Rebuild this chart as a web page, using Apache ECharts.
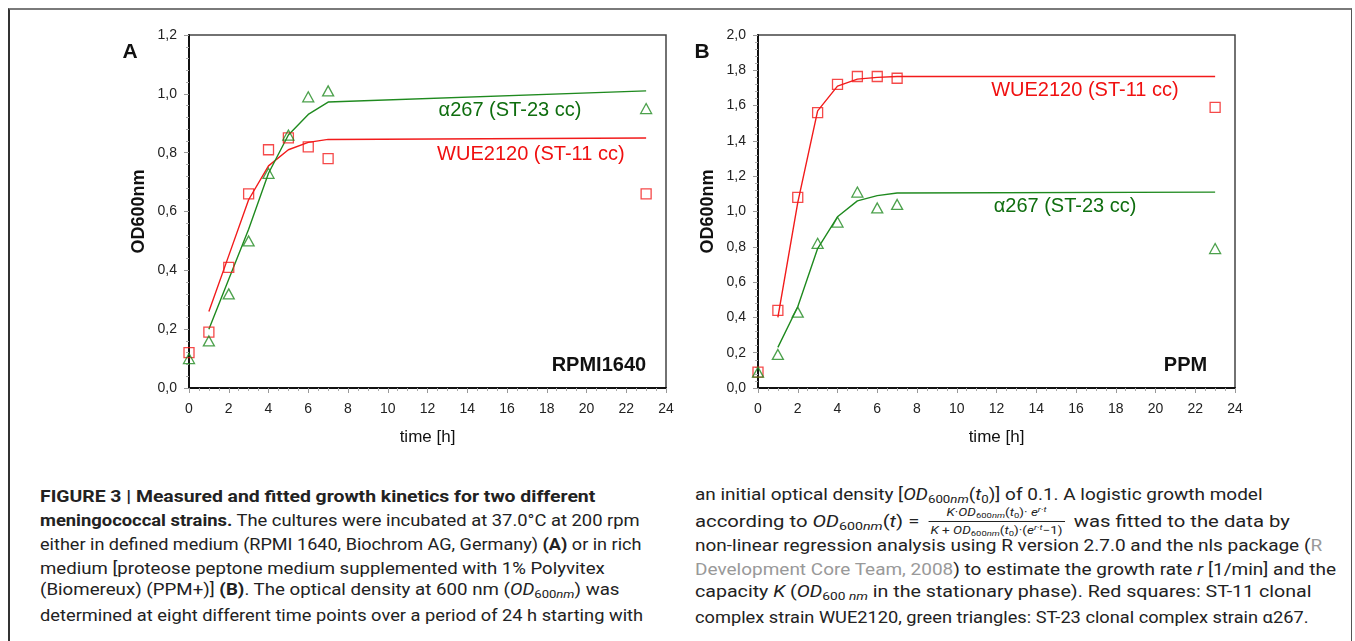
<!DOCTYPE html>
<html>
<head>
<meta charset="utf-8">
<script src="https://cdn.jsdelivr.net/npm/echarts@6/dist/echarts.min.js"></script>
<style>
  html, body { margin: 0; padding: 0; background: #fff; overflow: hidden; }
  body { width: 1355px; height: 641px; position: relative; }
  #frame { position: absolute; left: 8px; top: 8px; width: 1341px; height: 700px;
           border-top: 2px solid #7a7a7a; border-left: 2px solid #333; border-right: 1px solid #555; }
  #chart { position: absolute; left: 0; top: 0; width: 1355px; height: 470px; }
  .cap { position: absolute; white-space: nowrap; font-family: 'Liberation Sans Narrow', 'Roboto', 'Liberation Sans', sans-serif;
         font-size: 16.5px; color: #222; transform-origin: 0 50%; line-height: 20px; }
  .cap b { font-weight: bold; }
  .gray { color: #999; }
  .frac { display: inline-block; vertical-align: middle; text-align: center; font-size: 11px; line-height: 12px; margin: 0 3px; }
  .frac .num { display: block; border-bottom: 1px solid #222; padding: 0 2px; }
  .frac .den { display: block; padding: 0 2px; }
  sub { font-size: 0.7em; vertical-align: -0.25em; }
  sup { font-size: 0.7em; vertical-align: 0.5em; }
</style>
</head>
<body>
<div id="frame"></div>
<div id="chart"></div>

<div class="cap" data-x="40" data-y="497" data-w="555"><b>FIGURE 3 | Measured and fitted growth kinetics for two different</b></div>
<div class="cap" data-x="40" data-y="521" data-w="600"><b>meningococcal strains.</b> The cultures were incubated at 37.0°C at 200 rpm</div>
<div class="cap" data-x="40" data-y="545" data-w="601">either in defined medium (RPMI 1640, Biochrom AG, Germany) <b>(A)</b> or in rich</div>
<div class="cap" data-x="40" data-y="569" data-w="565">medium [proteose peptone medium supplemented with 1% Polyvitex</div>
<div class="cap" data-x="40" data-y="592" data-w="580">(Biomereux) (PPM+)] <b>(B)</b>. The optical density at 600 nm (<i>OD</i><sub>600<i>nm</i></sub>) was</div>
<div class="cap" data-x="40" data-y="616" data-w="603">determined at eight different time points over a period of 24 h starting with</div>

<div class="cap" data-x="695" data-y="497" data-w="567">an initial optical density [<i>OD</i><sub>600<i>nm</i></sub>(<i>t</i><sub>0</sub>)] of 0.1. A logistic growth model</div>
<div class="cap" data-x="695" data-y="522" data-w="595">according to <i>OD</i><sub>600<i>nm</i></sub>(<i>t</i>) = <span class="frac"><span class="num"><i>K</i>·<i>OD</i><sub>600<i>nm</i></sub>(<i>t</i><sub>0</sub>)· <i>e</i><sup><i>r</i>·<i>t</i></sup></span><span class="den"><i>K</i> + <i>OD</i><sub>600<i>nm</i></sub>(<i>t</i><sub>0</sub>)·(<i>e</i><sup><i>r</i>·<i>t</i></sup>−1)</span></span> was fitted to the data by</div>
<div class="cap" data-x="695" data-y="546" data-w="627">non-linear regression analysis using R version 2.7.0 and the nls package (<span class="gray">R</span></div>
<div class="cap" data-x="695" data-y="570" data-w="641"><span class="gray">Development Core Team, 2008</span>) to estimate the growth rate <i>r</i> [1/min] and the</div>
<div class="cap" data-x="695" data-y="594" data-w="617">capacity <i>K</i> (<i>OD</i><sub>600 <i>nm</i></sub> in the stationary phase). Red squares: ST-11 clonal</div>
<div class="cap" data-x="695" data-y="618" data-w="613">complex strain WUE2120, green triangles: ST-23 clonal complex strain α267.</div>

<script>
// ---------- data ----------
const timesMeasured = [0, 1, 2, 3, 4, 5, 6, 7, 23];
const timesFit = [1, 2, 3, 4, 5, 6, 7, 23];

// Panel A (RPMI1640)
const aRedMeasured   = [0.12, 0.19, 0.41, 0.66, 0.81, 0.85, 0.82, 0.78, 0.66];
const aGreenMeasured = [0.10, 0.16, 0.32, 0.50, 0.73, 0.86, 0.99, 1.01, 0.95];
const aRedFit   = [0.26, 0.45, 0.64, 0.755, 0.81, 0.835, 0.845, 0.85];
const aGreenFit = [0.20, 0.37, 0.54, 0.73, 0.86, 0.93, 0.972, 1.01];

// Panel B (PPM)
const bRedMeasured   = [0.09, 0.44, 1.08, 1.56, 1.72, 1.765, 1.765, 1.755, 1.59];
const bGreenMeasured = [0.09, 0.19, 0.43, 0.82, 0.94, 1.11, 1.02, 1.04, 0.79];
const bRedFit   = [0.40, 1.05, 1.57, 1.71, 1.75, 1.76, 1.765, 1.765];
const bGreenFit = [0.23, 0.46, 0.79, 0.97, 1.06, 1.09, 1.105, 1.11];

const xTicks = [0, 2, 4, 6, 8, 10, 12, 14, 16, 18, 20, 22, 24];
const yMaxA = 1.2, yMaxB = 2.0, yStep = 0.2;
const panelLetters = ['A', 'B'];
const mediumNames = ['RPMI1640', 'PPM'];
const strainRed = 'WUE2120 (ST-11 cc)';
const strainGreen = 'α267 (ST-23 cc)';
const xName = 'time [h]';
const yName = 'OD600nm';

// annotation anchors in data coordinates
const annotations = [
  { grid: 0, t: 16.15, v: 0.943, text: strainGreen, color: '#0f6e0f', align: 'center', bold: false },
  { grid: 0, t: 17.2,  v: 0.793, text: strainRed,   color: '#f01010', align: 'center', bold: false },
  { grid: 0, t: 23.0,  v: 0.075, text: mediumNames[0], color: '#111', align: 'right', bold: true },
  { grid: 1, t: 16.45, v: 1.688, text: strainRed,   color: '#f01010', align: 'center', bold: false },
  { grid: 1, t: 15.45, v: 1.027, text: strainGreen, color: '#0f6e0f', align: 'center', bold: false },
  { grid: 1, t: 22.6,  v: 0.125, text: mediumNames[1], color: '#111', align: 'right', bold: true }
];

const RED = '#f21b1b', GREEN = '#1f8a1f';
const FONT = "'Liberation Sans', Arial, sans-serif";

function pairs(xs, ys) { return xs.map((x, i) => [x, ys[i]]); }
function fmt(v) { return v.toFixed(1).replace('.', ','); }

const grids = [
  { left: 189, top: 35, width: 477, height: 353 },
  { left: 758, top: 35, width: 477, height: 353 }
].map(g => Object.assign(g, { show: true, borderColor: '#444', borderWidth: 1.5, backgroundColor: 'transparent' }));

function xAxis(i) {
  return {
    gridIndex: i, type: 'value', min: xTicks[0], max: xTicks[xTicks.length - 1], interval: 2,
    name: xName, nameLocation: 'middle', nameGap: 41,
    nameTextStyle: { fontFamily: FONT, fontSize: 17, color: '#111' },
    axisLine: { show: true, onZero: false, lineStyle: { color: '#111', width: 2 } },
    axisTick: { show: true, inside: false, length: 5, lineStyle: { color: '#999' } },
    minorTick: { show: true, splitNumber: 4, length: 3, lineStyle: { color: '#aaa' } },
    axisLabel: { fontFamily: FONT, fontSize: 14, color: '#222', margin: 14 },
    splitLine: { show: false }
  };
}
function yAxis(i, max) {
  return {
    gridIndex: i, type: 'value', min: 0, max: max, interval: yStep,
    name: yName, nameLocation: 'middle', nameGap: 41, nameRotate: 90,
    nameTextStyle: { fontFamily: FONT, fontSize: 18, fontWeight: 'bold', color: '#111' },
    axisLine: { show: true, onZero: false, lineStyle: { color: '#111', width: 2 } },
    axisTick: { show: true, inside: false, length: 5, lineStyle: { color: '#999' } },
    minorTick: { show: true, splitNumber: 5, length: 3, lineStyle: { color: '#aaa' } },
    axisLabel: { fontFamily: FONT, fontSize: 14, color: '#222', margin: 12, formatter: fmt },
    splitLine: { show: false }
  };
}

function lineSeries(i, ys, color) {
  return { type: 'line', xAxisIndex: i, yAxisIndex: i, data: pairs(timesFit, ys),
           showSymbol: false, symbol: 'none', lineStyle: { color: color, width: 1.4 }, z: 2, silent: true };
}
function scatterSeries(i, ys, color, shape) {
  return { type: 'scatter', xAxisIndex: i, yAxisIndex: i, data: pairs(timesMeasured, ys),
           symbol: shape, symbolSize: shape === 'rect' ? 10 : [11, 10],
           itemStyle: { color: 'rgba(255,255,255,0)', borderColor: color, borderWidth: 1.3 }, z: 3, silent: true };
}

const chart = echarts.init(document.getElementById('chart'), null, { renderer: 'canvas' });
chart.setOption({
  animation: false,
  grid: grids,
  xAxis: [xAxis(0), xAxis(1)],
  yAxis: [yAxis(0, yMaxA), yAxis(1, yMaxB)],
  series: [
    lineSeries(0, aRedFit, RED), lineSeries(0, aGreenFit, GREEN),
    scatterSeries(0, aRedMeasured, RED, 'rect'), scatterSeries(0, aGreenMeasured, GREEN, 'triangle'),
    lineSeries(1, bRedFit, RED), lineSeries(1, bGreenFit, GREEN),
    scatterSeries(1, bRedMeasured, RED, 'rect'), scatterSeries(1, bGreenMeasured, GREEN, 'triangle')
  ]
});

// text annotations anchored through the axes
const graphics = annotations.map(a => {
  const p = chart.convertToPixel({ gridIndex: a.grid }, [a.t, a.v]);
  return { type: 'text', x: p[0], y: p[1], z: 10, silent: true,
           style: { text: a.text, fill: a.color, align: a.align, verticalAlign: 'middle',
                    fontFamily: FONT, fontSize: a.bold ? 20 : 20, fontWeight: a.bold ? 'bold' : 'normal' } };
});
// panel letters, placed left of each grid top
panelLetters.forEach((L, i) => {
  const p = chart.convertToPixel({ gridIndex: i }, [0, i === 0 ? yMaxA : yMaxB]);
  graphics.push({ type: 'text', x: p[0] - (i === 0 ? 59 : 56), y: p[1] + 17, silent: true,
    style: { text: L, fill: '#111', align: 'center', verticalAlign: 'middle', fontFamily: FONT, fontSize: 21, fontWeight: 'bold' } });
});
chart.setOption({ graphic: graphics });

// caption lines: position and fit to measured widths
document.querySelectorAll('.cap').forEach(el => {
  const x = +el.dataset.x, y = +el.dataset.y, w = +el.dataset.w;
  el.style.left = x + 'px';
  el.style.top = (y - el.offsetHeight / 2) + 'px';
  const natural = el.scrollWidth;
  el.style.transform = 'scaleX(' + (w / natural) + ')';
});
</script>
</body>
</html>
